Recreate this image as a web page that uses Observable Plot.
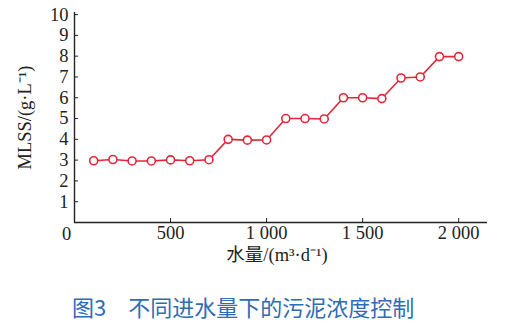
<!DOCTYPE html>
<html>
<head>
<meta charset="utf-8">
<script src="https://cdn.jsdelivr.net/npm/d3@7"></script>
<script src="https://cdn.jsdelivr.net/npm/@observablehq/plot@0.6"></script>
<style>
  html, body { margin: 0; padding: 0; background: #fff; }
  #wrap { position: relative; width: 508px; height: 324px; }
  #caption {
    position: absolute; left: 72px; top: 292px;
    font-family: "Noto Sans CJK SC", "Noto Sans", sans-serif;
    font-size: 22px; line-height: 28px; color: #2f6cb3; white-space: nowrap;
  }
</style>
</head>
<body>
<div id="wrap"></div>
<script>
// Data
const flow = [100, 200, 300, 400, 500, 600, 700, 800, 900, 1000, 1100, 1200, 1300, 1400, 1500, 1600, 1700, 1800, 1900, 2000];
const mlss = [2.97, 3.03, 2.96, 2.96, 3.01, 2.97, 3.02, 4.0, 3.96, 3.97, 5.0, 5.0, 4.98, 6.0, 6.0, 5.96, 6.95, 7.0, 7.98, 7.98];
const xTicks = [500, 1000, 1500, 2000];
const xTickLabels = ["500", "1 000", "1 500", "2 000"];
const yTicks = [1, 2, 3, 4, 5, 6, 7, 8, 9, 10];
const originLabel = ["0"];
const xLabel = "水量/(m³·d⁻¹)";
const yLabel = "MLSS/(g·L⁻¹)";
const caption = "图3\u3000不同进水量下的污泥浓度控制";

const data = flow.map((f, i) => ({flow: f, mlss: mlss[i]}));
const red = "#e0283a";
const axisColor = "#222";
const serif = "'Liberation Serif', 'Times New Roman', serif";

const chart = Plot.plot({
  width: 508,
  height: 280,
  marginLeft: 74,
  marginRight: 21,
  marginTop: 12,
  marginBottom: 58,
  style: {fontFamily: serif, fontSize: "18.5px", color: axisColor, background: "#fff"},
  x: {domain: [0, 2150]},
  y: {domain: [0, 10.1]},
  marks: [
    Plot.axisY(yTicks, {tickSize: -4, tickPadding: 10, label: null, fontSize: 18.5, stroke: axisColor}),
    Plot.axisX(xTicks, {tickSize: -4, tickPadding: 7, label: null, fontSize: 18.5,
      tickFormat: d => xTickLabels[xTicks.indexOf(d)], stroke: axisColor}),
    Plot.text(originLabel, {x: () => 0, y: () => 0, text: d => d, dx: -8, dy: 12, fontSize: 18.5, fill: axisColor}),
    Plot.ruleX([0], {stroke: axisColor, strokeWidth: 1.4}),
    Plot.ruleY([0], {stroke: axisColor, strokeWidth: 1.4}),
    Plot.line(data, {x: "flow", y: "mlss", stroke: red, strokeWidth: 1.6}),
    Plot.dot(data, {x: "flow", y: "mlss", r: 4, stroke: red, strokeWidth: 1.6, fill: "#fff"}),
    Plot.text([xLabel], {frameAnchor: "bottom", dx: -4, dy: 38, fontSize: 18.5, fill: axisColor,
      fontFamily: serif + ", 'Noto Sans CJK SC'"}),
    Plot.text([yLabel], {frameAnchor: "left", textAnchor: "middle", dx: -49, rotate: -90, fontSize: 18.5, fill: axisColor})
  ]
});
const wrap = document.getElementById("wrap");
wrap.appendChild(chart);
const cap = document.createElement("div");
cap.id = "caption";
cap.textContent = caption;
wrap.appendChild(cap);
</script>
</body>
</html>
